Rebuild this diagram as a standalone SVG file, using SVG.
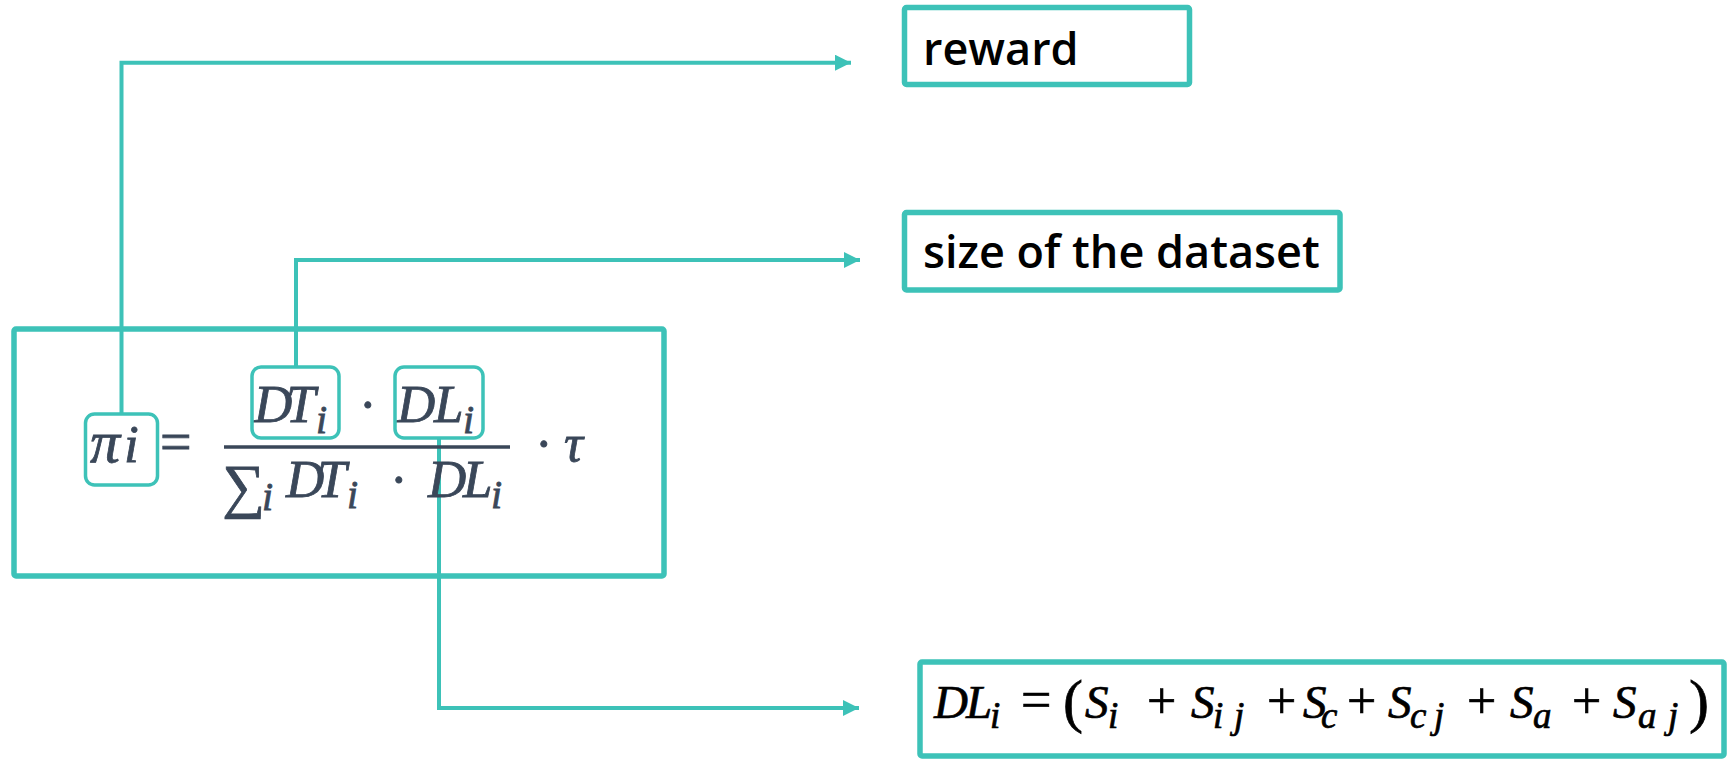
<svg xmlns="http://www.w3.org/2000/svg" width="1732" height="759" viewBox="0 0 1732 759">
  <style>
    .frame { fill: none; stroke: #3DC2B8; stroke-width: 5.5; stroke-linejoin: round; }
    .tag { fill: none; stroke: #3DC2B8; stroke-width: 3.5; }
    .wire { fill: none; stroke: #3DC2B8; stroke-width: 4; marker-end: url(#head); }
    .label { font-family: "Open Sans", "DejaVu Sans", sans-serif; font-weight: 600; font-size: 45px; fill: #000; }
    .math { font-family: "Liberation Serif", "DejaVu Serif", serif; font-style: italic; font-size: 53px; fill: #3A4759; stroke: #3A4759; stroke-width: 0.8; }
    .def { font-family: "Liberation Serif", "DejaVu Serif", serif; font-style: italic; font-size: 47px; fill: #000; stroke: #000; stroke-width: 0.7; }
    .sub { font-size: 40px; }
    .dsub { font-size: 37px; }
    .up { font-style: normal; }
  </style>
  <defs>
    <marker id="head" markerUnits="userSpaceOnUse" markerWidth="16" markerHeight="16" refX="16" refY="8" orient="auto">
      <path d="M0,0 L16,8 L0,16 Z" fill="#3DC2B8"/>
    </marker>
  </defs>

  <rect width="1732" height="759" fill="#fff"/>

  <!-- connectors -->
  <g id="connectors">
    <path class="wire" d="M121.5,414 V62.7 H851"/>
    <path class="wire" d="M296,367 V260 H860"/>
    <path class="wire" d="M439,438 V708 H859"/>
  </g>

  <!-- reward formula: pi_i = DT_i * DL_i / sum_i(DT_i * DL_i) * tau -->
  <g id="formula">
    <rect class="frame" x="14" y="329" width="650" height="247" rx="2"/>
    <text class="math"><tspan x="90" y="462" font-size="60">π</tspan><tspan x="124" y="462">i</tspan><tspan class="up" x="160" y="461" font-size="56">=</tspan></text>
    <!-- numerator -->
    <text class="math"><tspan x="254" y="422">D</tspan><tspan x="286" y="422">T</tspan><tspan class="sub" x="316" y="433">i</tspan><tspan class="up" x="359" y="422">·</tspan><tspan x="397" y="422">D</tspan><tspan x="434" y="422">L</tspan><tspan class="sub" x="463" y="433">i</tspan></text>
    <!-- fraction bar -->
    <line x1="224" y1="447" x2="510" y2="447" stroke="#3A4759" stroke-width="3.5"/>
    <!-- denominator -->
    <text class="math"><tspan class="up" x="222" y="506" font-size="60">∑</tspan><tspan class="sub" x="262" y="510">i</tspan><tspan x="286" y="497">D</tspan><tspan x="317" y="497">T</tspan><tspan class="sub" x="347" y="508">i</tspan><tspan class="up" x="390" y="497">·</tspan><tspan x="428" y="497">D</tspan><tspan x="463" y="497">L</tspan><tspan class="sub" x="491" y="508">i</tspan></text>
    <!-- times tau -->
    <text class="math"><tspan class="up" x="535" y="461">·</tspan><tspan x="564" y="461">τ</tspan></text>
  </g>

  <!-- highlighted terms -->
  <g id="term-pi">
    <rect class="tag" x="85.5" y="414" width="72" height="71" rx="9"/>
  </g>
  <g id="term-dt">
    <rect class="tag" x="252" y="367" width="87" height="71" rx="9"/>
  </g>
  <g id="term-dl">
    <rect class="tag" x="395" y="367" width="88" height="71" rx="9"/>
  </g>

  <!-- labels -->
  <g id="reward">
    <rect class="frame" x="904.5" y="7.5" width="285" height="77" rx="2" stroke-width="5"/>
    <text class="label" x="923" y="65">reward</text>
  </g>
  <g id="dataset-size">
    <rect class="frame" x="904.5" y="212.5" width="435.5" height="77.5" rx="2" stroke-width="5"/>
    <text class="label" x="923" y="268">size of the dataset</text>
  </g>
  <g id="dl-definition">
    <rect class="frame" x="920" y="662" width="804" height="94" rx="2" stroke-width="5"/>
    <text class="def"><tspan x="934" y="718">D</tspan><tspan x="966" y="718">L</tspan><tspan class="dsub" x="990" y="728">i</tspan><tspan class="up" x="1021" y="718" font-size="54">=</tspan><tspan class="up" x="1063" y="721" font-size="60">(</tspan><tspan x="1085" y="718">S</tspan><tspan class="dsub" x="1108" y="728">i</tspan><tspan class="up" x="1147" y="718" font-size="52">+</tspan><tspan x="1191" y="718">S</tspan><tspan class="dsub" x="1213" y="728">i</tspan><tspan class="dsub" x="1234" y="728">j</tspan><tspan class="up" x="1267" y="718" font-size="52">+</tspan><tspan x="1303" y="718">S</tspan><tspan class="dsub" x="1321" y="728">c</tspan><tspan class="up" x="1347" y="718" font-size="52">+</tspan><tspan x="1388" y="718">S</tspan><tspan class="dsub" x="1410" y="728">c</tspan><tspan class="dsub" x="1434" y="728">j</tspan><tspan class="up" x="1467" y="718" font-size="52">+</tspan><tspan x="1510" y="718">S</tspan><tspan class="dsub" x="1533" y="728">a</tspan><tspan class="up" x="1572" y="718" font-size="52">+</tspan><tspan x="1613" y="718">S</tspan><tspan class="dsub" x="1638" y="728">a</tspan><tspan class="dsub" x="1668" y="728">j</tspan><tspan class="up" x="1689" y="721" font-size="60">)</tspan></text>
  </g>
</svg>
